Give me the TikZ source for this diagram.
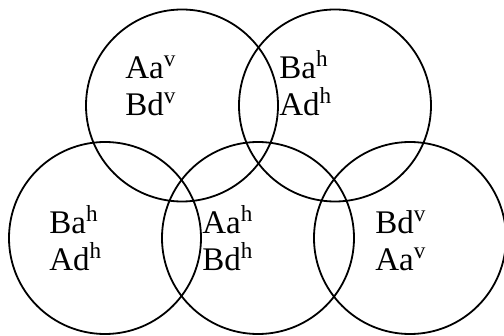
\documentclass[tikz,border=0pt]{standalone}
\usepackage{fontspec}
\setmainfont{Liberation Serif}
\tikzset{ring/.style={circle,draw,line width=.9pt,minimum size=96pt,inner sep=0},
         lbl/.style={font=\fontsize{16.5}{18.5}\selectfont,align=left,anchor=base west,inner sep=0}}

\begin{document}
\begin{tikzpicture}[x=.5pt,y=-.5pt]
  \useasboundingbox (0,0) rectangle (504,336);
  \node[ring] (t1) at (182,105.5) {};
  \node[ring] (t2) at (335,105.5) {};
  \node[ring] (b1) at (105,238) {};
  \node[ring] (b2) at (258,238) {};
  \node[ring] (b3) at (410,238) {};
  % base = baseline of the second line
  \node[lbl] (l1) at (125,116) {Aa\textsuperscript{v}\\Bd\textsuperscript{v}};
  \node[lbl] (l2) at (279,116) {Ba\textsuperscript{h}\\Ad\textsuperscript{h}};
  \node[lbl] (l3) at (49,271) {Ba\textsuperscript{h}\\Ad\textsuperscript{h}};
  \node[lbl] (l4) at (202,271) {Aa\textsuperscript{h}\\Bd\textsuperscript{h}};
  \node[lbl] (l5) at (375,271) {Bd\textsuperscript{v}\\Aa\textsuperscript{v}};
\end{tikzpicture}
\end{document}
